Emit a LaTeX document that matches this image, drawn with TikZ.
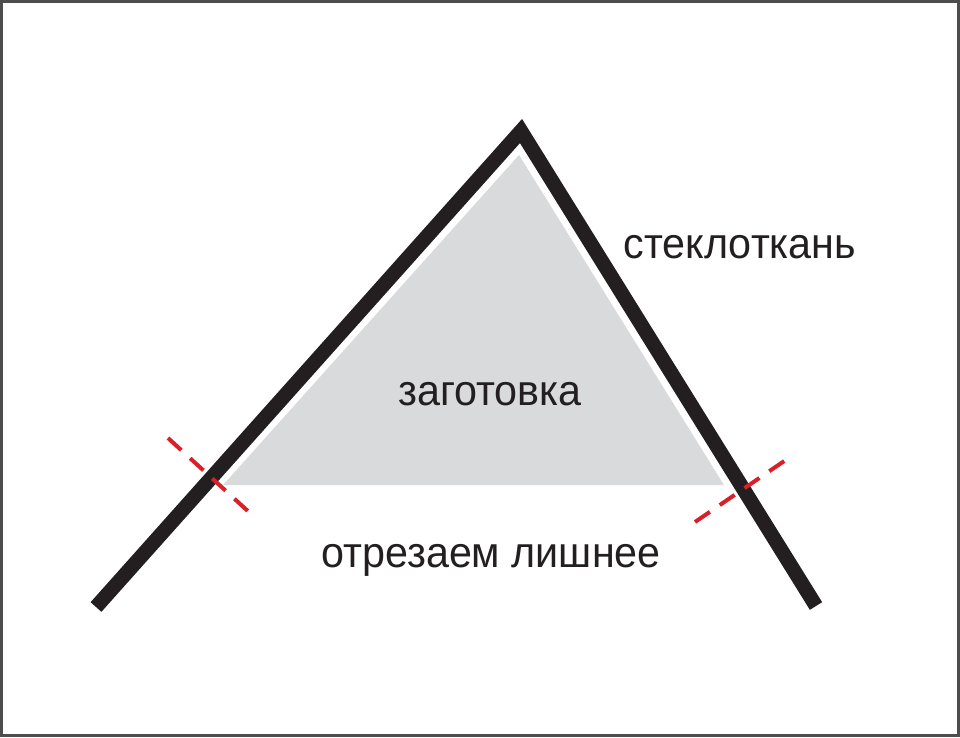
\documentclass[tikz,border=0pt]{standalone}
\usepackage{fontspec}
\setmainfont{Liberation Sans}
\definecolor{ink}{HTML}{231F20}
\definecolor{blank}{HTML}{D9DADB}
\definecolor{cutred}{HTML}{DA1F28}
\definecolor{frame}{HTML}{4D4D4D}
\tikzset{
  fabric/.style={line width=14.5pt, draw=ink, line join=miter, line cap=butt},
  cutline/.style={line width=4pt, draw=cutred, dash pattern=on 18pt off 12pt},
  label/.style={text=ink, font=\fontsize{43}{50}\selectfont, anchor=base, inner sep=0pt, xscale=0.96}
}
\begin{document}
\begin{tikzpicture}[x=1pt,y=-1pt]
\useasboundingbox (0,0) rectangle (960,737);
\draw[draw=frame, line width=2.5pt] (1.5,1.5) rectangle (958.5,735.5);
% blank (grey triangle)
\fill[blank] (519,155) -- (223,485) -- (724,485) -- cycle;
% fabric
\coordinate (L) at (96,607);
\coordinate (A) at (521,131);
\coordinate (R) at (816,606);
\draw[fabric] (L) -- (A) -- (R);
% cut lines
\coordinate (c1a) at (168,438);
\coordinate (c1b) at (250,513);
\coordinate (c2a) at (695,522);
\coordinate (c2b) at (793,455);
\draw[cutline] (c1a) -- (c1b);
\draw[cutline] (c2a) -- (c2b);
% labels
\node[label] (t1) at (740,258) {стеклоткань};
\node[label] (t2) at (490,405) {заготовка};
\node[label] (t3) at (491,567) {отрезаем лишнее};
\end{tikzpicture}
\end{document}
